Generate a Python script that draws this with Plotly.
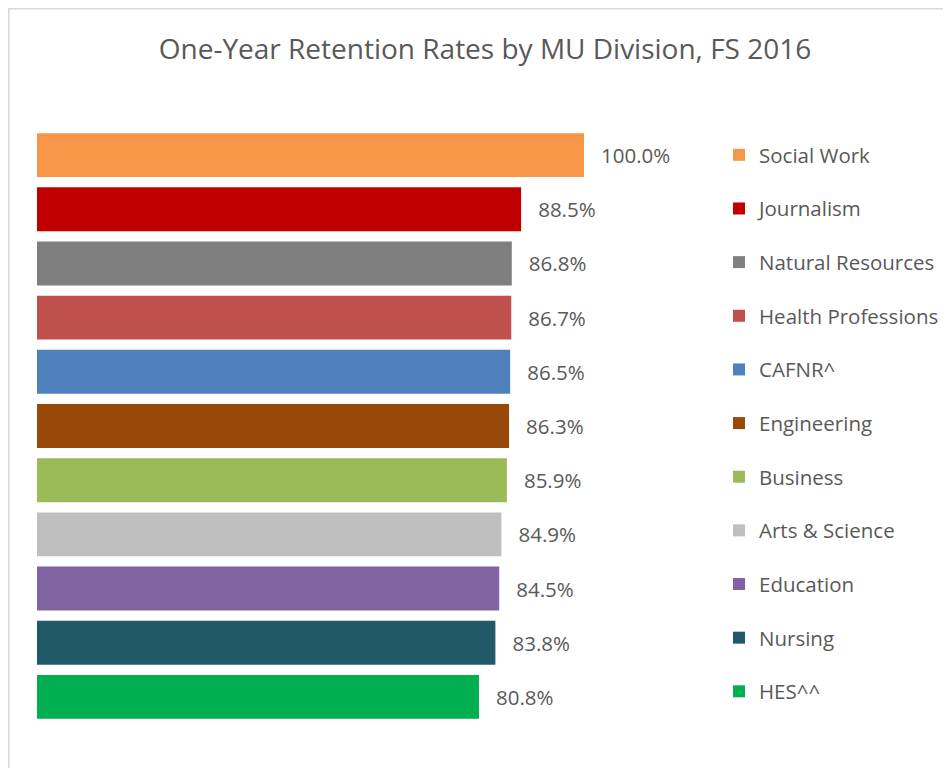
import plotly.graph_objects as go

divisions = ["Social Work", "Journalism", "Natural Resources", "Health Professions",
             "CAFNR^", "Engineering", "Business", "Arts & Science", "Education",
             "Nursing", "HES^^"]
rates = [100.0, 88.5, 86.8, 86.7, 86.5, 86.3, 85.9, 84.9, 84.5, 83.8, 80.8]
colors = ["#F79646", "#C00000", "#7F7F7F", "#C0504D", "#4F81BD", "#984807",
          "#9BBB59", "#BFBFBF", "#8064A2", "#215968", "#00B050"]

# page body has an 8px margin, so the figure is 16px smaller than the window
W, H = 935, 760
L, R_PX = 29, 576
T, B_PX = 120, 716
pw = R_PX - L
ph = B_PX - T

def px_x(p):
    return (p - L) / pw

def px_y(p):
    return (B_PX - p) / ph

FONT = "Open Sans"
TXT = "#595959"

fig = go.Figure()
for name, val, col in zip(divisions, rates, colors):
    fig.add_trace(go.Bar(
        x=[val], y=[name], orientation="h", name=name,
        marker=dict(color=col, line=dict(width=0)),
        text=[val], texttemplate="\u00a0\u00a0\u2009%{x:.1f}%",
        textposition="outside", cliponaxis=False, constraintext="none",
        textfont=dict(family=FONT, size=20.5, color=TXT),
        legendgroup=name, hoverinfo="skip",
    ))

fig.update_layout(
    width=W, height=H,
    margin=dict(l=L, r=W - R_PX, t=T, b=H - B_PX, pad=0, autoexpand=False),
    paper_bgcolor="white", plot_bgcolor="white",
    barmode="relative", bargap=0.19,
    title=dict(text="One-Year Retention Rates by MU Division, FS 2016",
               x=477 / W, xanchor="center", y=1 - 41 / H, yanchor="middle",
               font=dict(family=FONT, size=28, color=TXT)),
    xaxis=dict(range=[0, 100], visible=False, fixedrange=True),
    yaxis=dict(categoryorder="array", categoryarray=divisions, autorange="reversed",
               visible=False, fixedrange=True),
    legend=dict(x=px_x(711), xanchor="left", y=px_y(127), yanchor="top",
                traceorder="grouped", tracegroupgap=24,
                font=dict(family=FONT, size=20.5, color=TXT),
                bgcolor="rgba(0,0,0,0)", borderwidth=0, itemclick=False,
                itemdoubleclick=False),
    showlegend=True,
    shapes=[
        dict(type="line", xref="paper", yref="paper",
             x0=px_x(0), x1=px_x(W), y0=px_y(0.75), y1=px_y(0.75),
             line=dict(color="#D9D9D9", width=1.5)),
        dict(type="line", xref="paper", yref="paper",
             x0=px_x(0.75), x1=px_x(0.75), y0=px_y(0), y1=px_y(H),
             line=dict(color="#D9D9D9", width=1.5)),
    ],
)

fig.write_html("out.html")
